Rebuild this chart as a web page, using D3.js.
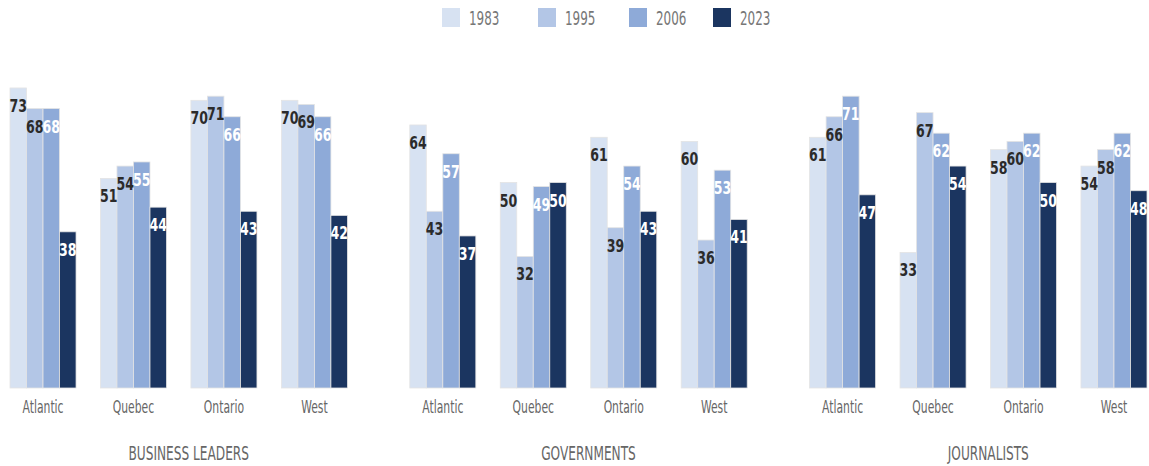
<!DOCTYPE html>
<html>
<head>
<meta charset="utf-8">
<script src="https://cdn.jsdelivr.net/npm/d3@7"></script>
<style>
  body { margin: 0; background: #fff; }
  svg text { font-family: "DejaVu Sans", sans-serif; }
</style>
</head>
<body>
<div id="chart"></div>
<script>
// data
const panels = ['BUSINESS LEADERS', 'GOVERNMENTS', 'JOURNALISTS'];
const regions = ['Atlantic', 'Quebec', 'Ontario', 'West'];
const years = ['1983', '1995', '2006', '2023'];

const businessLeaders = [[73, 68, 68, 38], [51, 54, 55, 44], [70, 71, 66, 43], [70, 69, 66, 42]];
const governments = [[64, 43, 57, 37], [50, 32, 49, 50], [61, 39, 54, 43], [60, 36, 53, 41]];
const journalists = [[61, 66, 71, 47], [33, 67, 62, 54], [58, 60, 62, 50], [54, 58, 62, 48]];
const panelValues = [businessLeaders, governments, journalists];

const colors = ['#d7e2f2', '#b3c6e6', '#8eaad8', '#1b3560'];
const labelColors = ['#2b2b2b', '#2b2b2b', '#ffffff', '#ffffff'];

const width = 1149;
const height = 466;

const svg = d3.select('#chart')
  .append('svg')
  .attr('width', width)
  .attr('height', height);

const xPanel = d3.scaleBand()
  .domain(panels)
  .range([10, 1147])
  .paddingInner(0.156)
  .paddingOuter(0);

const xRegion = d3.scaleBand()
  .domain(regions)
  .range([0, xPanel.bandwidth()])
  .paddingInner(0.27)
  .paddingOuter(0);

const xYear = d3.scaleBand()
  .domain(years)
  .range([0, xRegion.bandwidth()]);

const y = d3.scaleLinear()
  .domain([0, 100])
  .range([388, -23]);

// condensed look: squeeze text horizontally
const squeeze = (x, yy, s) => `translate(${x},${yy}) scale(${s},1)`;

// legend
const legend = svg.append('g')
  .attr('class', 'legend');
const legendX = [442, 538, 629, 713];
years.forEach((yr, i) => {
  legend.append('rect')
    .attr('x', legendX[i])
    .attr('y', 8)
    .attr('width', 18)
    .attr('height', 19)
    .attr('fill', colors[i]);
  legend.append('text')
    .attr('transform', squeeze(legendX[i] + 27, 25, 0.63))
    .attr('font-size', 19)
    .attr('fill', '#777')
    .text(yr);
});

panels.forEach((p, pi) => {
  const g = svg.append('g')
    .attr('transform', `translate(${xPanel(p)},0)`);

  const groups = g.selectAll('.region')
    .data(regions.map((r, ri) => ({ region: r, values: panelValues[pi][ri] })))
    .enter()
    .append('g')
    .attr('class', 'region')
    .attr('transform', d => `translate(${xRegion(d.region)},0)`);

  groups.selectAll('rect')
    .data(d => d.values.map((v, i) => ({ year: years[i], value: v, i })))
    .enter()
    .append('rect')
    .attr('x', d => xYear(d.year))
    .attr('y', d => y(d.value))
    .attr('width', xYear.bandwidth())
    .attr('height', d => y(0) - y(d.value))
    .attr('fill', d => colors[d.i])
    .attr('stroke', '#e4e4e4')
    .attr('stroke-width', 0.8);

  groups.selectAll('.val')
    .data(d => d.values.map((v, i) => ({ year: years[i], value: v, i })))
    .enter()
    .append('text')
    .attr('class', 'val')
    .attr('transform', d => squeeze(xYear(d.year) + xYear.bandwidth() / 2, y(d.value) + 24, 0.74))
    .attr('text-anchor', 'middle')
    .attr('font-size', 17)
    .attr('font-weight', 'bold')
    .attr('fill', d => labelColors[d.i])
    .text(d => d.value);

  groups.append('text')
    .attr('transform', squeeze(xRegion.bandwidth() / 2, 413, 0.6))
    .attr('text-anchor', 'middle')
    .attr('font-size', 18)
    .attr('fill', '#666')
    .text(d => d.region);

  g.append('text')
    .attr('transform', squeeze(xPanel.bandwidth() / 2 + 10, 460, 0.64))
    .attr('text-anchor', 'middle')
    .attr('font-size', 19)
    .attr('fill', '#666')
    .text(p);
});
</script>
</body>
</html>
